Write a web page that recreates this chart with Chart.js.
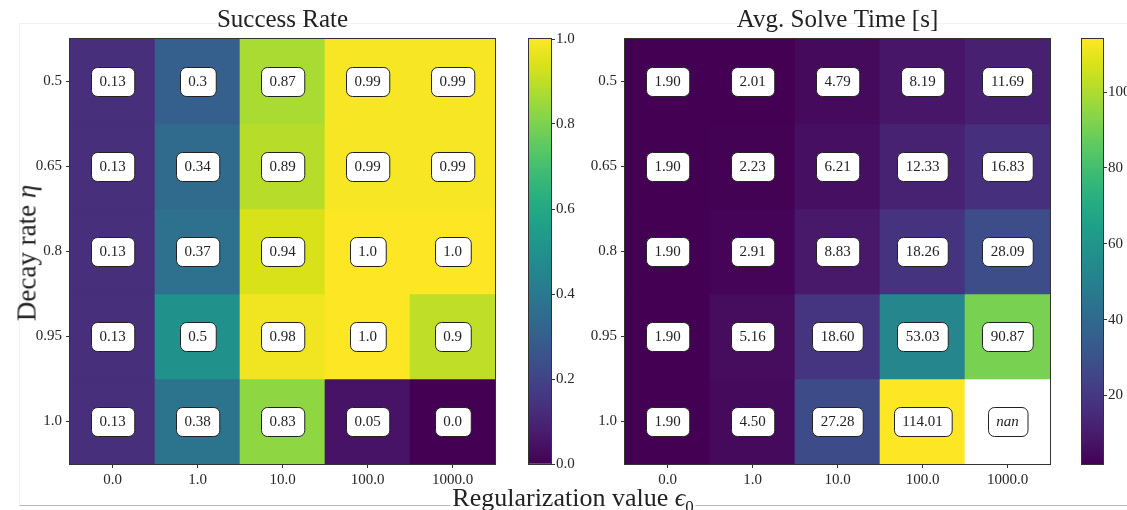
<!DOCTYPE html>
<html>
<head>
<meta charset="utf-8">
<script src="https://cdn.jsdelivr.net/npm/chart.js@4"></script>
<style>
  body { margin: 0; background: #fff; }
  #wrap { position: relative; width: 1127px; height: 510px; overflow: hidden; font-family: "Liberation Serif", serif; color: #222; }
  canvas { position: absolute; top: 0; }
  #frame { position: absolute; left: 19px; top: 23px; right: -2px; height: 481px; border-top: 1px solid #f2f2f2; border-left: 1px solid #f2f2f2; border-bottom: 1px solid #b5b5b5; }
  #ylab { position: absolute; left: 27px; top: 253px; transform: translate(-50%, -50%) rotate(-90deg); font-size: 27px; white-space: nowrap; }
  #xlab { position: absolute; left: 573px; top: 488px; transform: translateX(-50%); font-size: 26px; white-space: nowrap; background: #fff; line-height: 20px; height: 22px; padding: 0 2px; }
  #xlab sub { font-size: 17px; line-height: 0; }
</style>
</head>
<body>
<div id="wrap">
  <div id="frame"></div>
  <canvas id="heatA" width="510" height="490" style="left:0"></canvas>
  <canvas id="barA" width="70" height="490" style="left:520px"></canvas>
  <canvas id="heatB" width="500" height="490" style="left:560px"></canvas>
  <canvas id="barB" width="54" height="490" style="left:1073px"></canvas>
  <div id="ylab">Decay rate <i>η</i></div>
  <div id="xlab">Regularization value <i>ϵ</i><sub>0</sub></div>
</div>
<script>
const colLabels = ["0.0", "1.0", "10.0", "100.0", "1000.0"];
const rowLabels = ["0.5", "0.65", "0.8", "0.95", "1.0"];

// rows = decay rate, columns = regularization value
const successRate = [
  [0.13, 0.3, 0.87, 0.99, 0.99],
  [0.13, 0.34, 0.89, 0.99, 0.99],
  [0.13, 0.37, 0.94, 1.0, 1.0],
  [0.13, 0.5, 0.98, 1.0, 0.9],
  [0.13, 0.38, 0.83, 0.05, 0.0]
];
const solveTime = [
  [1.90, 2.01, 4.79, 8.19, 11.69],
  [1.90, 2.23, 6.21, 12.33, 16.83],
  [1.90, 2.91, 8.83, 18.26, 28.09],
  [1.90, 5.16, 18.60, 53.03, 90.87],
  [1.90, 4.50, 27.28, 114.01, NaN]
];
const successTicks = [0, 0.2, 0.4, 0.6, 0.8, 1.0];
const timeTicks = [20, 40, 60, 80, 100];

const viridis = ["#440154", "#48186a", "#472d7b", "#424086", "#3b528b", "#33638d", "#2c728e", "#26828e",
  "#21918c", "#1fa088", "#28ae80", "#3fbc73", "#5ec962", "#84d44b", "#addc30", "#d8e219", "#fde725"];

const FONT = "'Liberation Serif', serif";
const INK = "#262626";

function hex(c) {
  return [1, 3, 5].map(i => parseInt(c.slice(i, i + 2), 16));
}
function colormap(t) {
  t = Math.min(1, Math.max(0, t));
  const p = t * (viridis.length - 1);
  const i = Math.min(viridis.length - 2, Math.floor(p));
  const f = p - i;
  const a = hex(viridis[i]), b = hex(viridis[i + 1]);
  const c = a.map((v, k) => Math.round(v + (b[k] - v) * f));
  return `rgb(${c[0]},${c[1]},${c[2]})`;
}

// outline around the plot area, like the matplotlib spines
const frame = {
  id: "frame",
  afterDraw(chart) {
    const { ctx, chartArea: a } = chart;
    ctx.save();
    ctx.strokeStyle = "#333";
    ctx.lineWidth = 1;
    ctx.strokeRect(a.left - 0.5, a.top - 0.5, a.right - a.left + 1, a.bottom - a.top + 1);
    ctx.restore();
  }
};

// white rounded boxes with the cell values
const cellText = {
  id: "cellText",
  afterDatasetsDraw(chart, args, opts) {
    const ctx = chart.ctx;
    ctx.save();
    chart.data.datasets.forEach((ds, i) => {
      chart.getDatasetMeta(i).data.forEach((bar, j) => {
        const v = opts.values[i][j];
        const txt = isNaN(v) ? "nan" : opts.fmt(v);
        ctx.font = (isNaN(v) ? "italic " : "") + "15px " + FONT;
        const w = ctx.measureText(txt).width + 17;
        const h = 29;
        const cx = bar.x, cy = (bar.y + bar.base) / 2;
        const x = Math.round(cx - w / 2) + 0.5, y = Math.round(cy - h / 2) + 0.5, r = 6;
        ctx.beginPath();
        ctx.moveTo(x + r, y);
        ctx.arcTo(x + w, y, x + w, y + h, r);
        ctx.arcTo(x + w, y + h, x, y + h, r);
        ctx.arcTo(x, y + h, x, y, r);
        ctx.arcTo(x, y, x + w, y, r);
        ctx.closePath();
        ctx.fillStyle = "#fff";
        ctx.fill();
        ctx.strokeStyle = "#222";
        ctx.lineWidth = 1;
        ctx.stroke();
        ctx.fillStyle = "#222";
        ctx.textAlign = "center";
        ctx.textBaseline = "middle";
        ctx.fillText(txt, cx, cy + 1);
      });
    });
    ctx.restore();
  }
};

function heatmap(id, values, vmin, vmax, fmt, title, yWidth, padRight) {
  const datasets = rowLabels.map((r, i) => ({
    label: r,
    data: values[i].map(() => [i, i + 1]),
    backgroundColor: values[i].map(v => isNaN(v) ? "#ffffff" : colormap((v - vmin) / (vmax - vmin))),
    borderWidth: 0,
    grouped: false,
    barPercentage: 1,
    categoryPercentage: 1
  }));
  return new Chart(document.getElementById(id), {
    type: "bar",
    data: { labels: colLabels, datasets: datasets },
    options: {
      responsive: false,
      animation: false,
      layout: { padding: { right: padRight } },
      plugins: {
        legend: { display: false },
        tooltip: { enabled: false },
        title: {
          display: true, text: title, fullSize: false, color: "#222",
          font: { family: FONT, size: 25, weight: "normal" },
          padding: { top: 5, bottom: 4 }
        },
        cellText: { values: values, fmt: fmt }
      },
      scales: {
        x: {
          grid: { display: true, drawOnChartArea: false, offset: false, tickLength: 4, color: "#333" },
          border: { display: true, color: "#333" },
          ticks: { color: INK, font: { family: FONT, size: 15 }, padding: 3, maxRotation: 0 },
          afterFit: s => { s.height = 26; }
        },
        y: {
          min: 0, max: rowLabels.length, reverse: true,
          grid: { display: true, drawOnChartArea: false, tickLength: 4, color: "#333" },
          border: { display: true, color: "#333" },
          ticks: { color: INK, font: { family: FONT, size: 15 }, padding: 4, callback: (v, i) => rowLabels[i] },
          afterBuildTicks: s => { s.ticks = rowLabels.map((r, i) => ({ value: i + 0.5 })); },
          afterFit: s => { s.width = yWidth; }
        }
      }
    },
    plugins: [cellText, frame]
  });
}

function colorbar(id, vmin, vmax, ticks, fmt, padLeft, axisWidth) {
  return new Chart(document.getElementById(id), {
    type: "bar",
    data: {
      labels: [""],
      datasets: [{
        data: [[vmin, vmax]],
        borderWidth: 0,
        barPercentage: 1,
        categoryPercentage: 1,
        backgroundColor: ctx => {
          const a = ctx.chart.chartArea;
          if (!a) return null;
          const g = ctx.chart.ctx.createLinearGradient(0, a.bottom, 0, a.top);
          viridis.forEach((c, i) => g.addColorStop(i / (viridis.length - 1), c));
          return g;
        }
      }]
    },
    options: {
      responsive: false,
      animation: false,
      layout: { padding: { left: padLeft, top: 39, bottom: 26 } },
      plugins: { legend: { display: false }, tooltip: { enabled: false } },
      scales: {
        x: { display: false },
        y: {
          position: "right", min: vmin, max: vmax,
          grid: { display: true, drawOnChartArea: false, tickLength: 4, color: "#333" },
          border: { display: true, color: "#333" },
          ticks: { color: INK, font: { family: FONT, size: 15 }, padding: 1, callback: v => fmt(v) },
          afterBuildTicks: s => { s.ticks = ticks.map(v => ({ value: v })); },
          afterFit: s => { s.width = axisWidth; }
        }
      }
    },
    plugins: [frame]
  });
}

const fmtRate = v => Number.isInteger(v) ? v.toFixed(1) : String(v);
const fmtTime = v => v.toFixed(2);
const times = solveTime.flat().filter(v => !isNaN(v));
const tMin = Math.min(...times), tMax = Math.max(...times);

heatmap("heatA", successRate, 0, 1, fmtRate, "Success Rate", 70, 15);
colorbar("barA", 0, 1, successTicks, v => v.toFixed(1), 9, 39);
heatmap("heatB", solveTime, tMin, tMax, fmtTime, "Avg. Solve Time [s]", 65, 10);
colorbar("barB", tMin, tMax, timeTicks, v => String(v), 9, 24);
</script>
</body>
</html>
